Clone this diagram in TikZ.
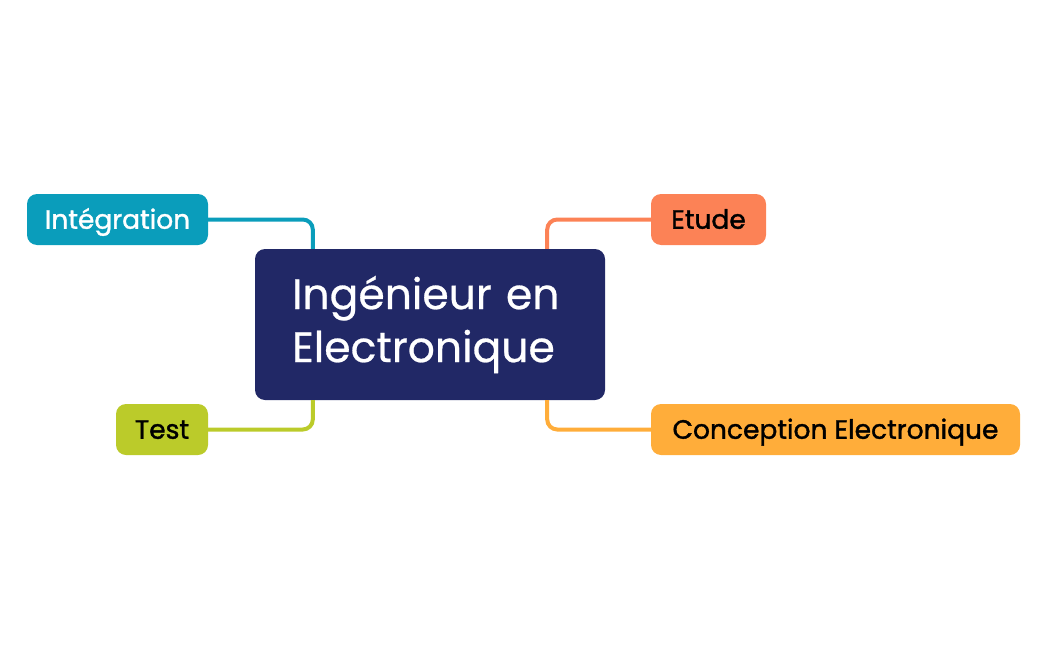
\documentclass[tikz,border=0pt]{standalone}
\usepackage{fontspec}
\setmainfont{Poppins}
\newfontfamily\topicfont{Poppins}[FakeBold=1.4]
\newfontfamily\centrefont{Poppins}[FakeBold=0.6]
\definecolor{navy}{HTML}{212866}
\definecolor{tealc}{HTML}{0A9DBB}
\definecolor{coral}{HTML}{FC8256}
\definecolor{lime}{HTML}{BBCB2A}
\definecolor{amber}{HTML}{FFAD3A}
\begin{document}
	\begin{tikzpicture}[
			x=1pt,y=1pt,
			topic/.style={rounded corners=10pt,minimum height=51pt,inner sep=0pt,
				text height=18.5pt,text depth=0pt,font=\topicfont\fontsize{26.5}{30}\selectfont},
			link/.style={line width=4pt,rounded corners=10pt}
		]
		\useasboundingbox (0,0) rectangle (1048,-650);
		\node[fill=navy,rounded corners=10pt,inner xsep=37pt,text width=276pt,minimum height=151pt,text=white,
			font=\centrefont\fontsize{42.5}{53}\selectfont,align=left] (centre) at (430,-324.5)
			{Ingénieur en\\Electronique};
		\node[topic,fill=tealc,text=white,minimum width=181pt] (integ) at (117.5,-219.5) {Intégration};
		\node[topic,fill=coral,minimum width=115pt] (etude) at (708.5,-219.5) {Etude};
		\node[topic,fill=lime,minimum width=92pt] (test) at (162,-429.5) {Test};
		\node[topic,fill=amber,minimum width=369pt] (concep) at (835.5,-429.5) {Conception Electronique};
		\coordinate (ctl) at ([xshift=58pt]centre.north west);
		\coordinate (ctr) at ([xshift=-58pt]centre.north east);
		\coordinate (cbl) at ([xshift=58pt]centre.south west);
		\coordinate (cbr) at ([xshift=-58pt]centre.south east);
		\draw[link,tealc] (integ.east) -| (ctl);
		\draw[link,coral] (etude.west) -| (ctr);
		\draw[link,lime] (test.east) -| (cbl);
		\draw[link,amber] (concep.west) -| (cbr);
	\end{tikzpicture}
\end{document}
